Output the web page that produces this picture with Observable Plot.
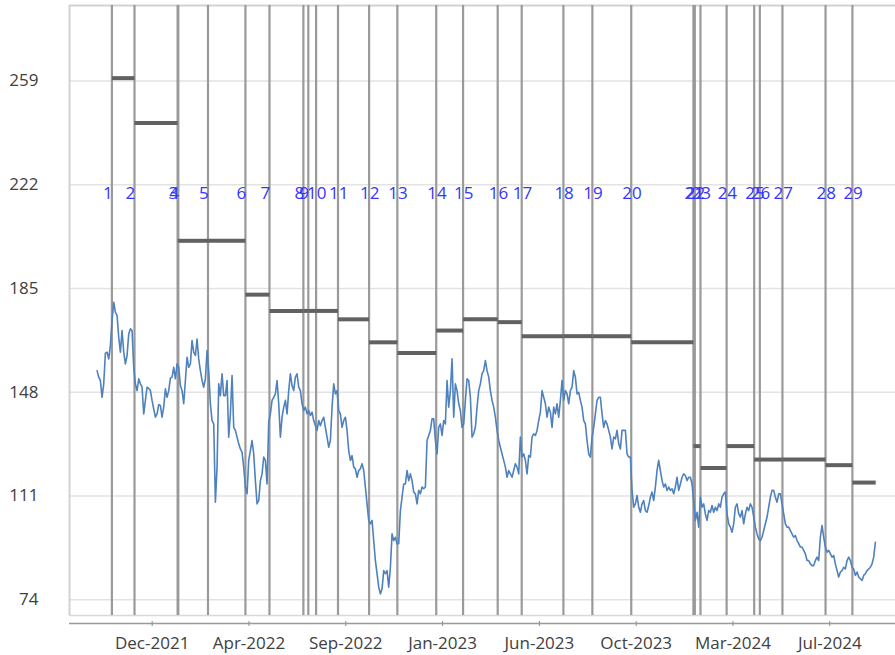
<!DOCTYPE html>
<html><head><meta charset="utf-8">
<script src="https://cdn.jsdelivr.net/npm/d3@7"></script>
<script src="https://cdn.jsdelivr.net/npm/@observablehq/plot@0.6"></script>
<style>html,body{margin:0;padding:0;background:#fff}#chart{position:absolute;left:0;top:0}</style>
</head><body><div id="chart"></div>
<script>
// Price series at a fixed sampling step
const priceStart = "2021-09-14";
const priceStepDays = 2.3587;
const priceValues = [
155.7,153.4,152.2,146.2,151.0,161.9,162.3,159.9,164.7,173.6,
180.1,176.5,175.4,167.6,162.3,170.0,162.3,158.1,161.1,168.8,
170.6,170.0,156.9,151.0,148.6,152.8,151.0,149.8,140.3,145.1,
149.8,149.4,148.6,145.1,142.1,139.1,140.3,143.6,143.3,139.1,
142.7,149.2,146.2,148.6,153.0,153.4,156.9,152.8,158.1,156.9,
150.4,148.6,143.9,152.2,160.5,156.9,158.1,166.4,162.3,161.1,
167.0,159.9,155.7,152.2,149.8,152.8,162.9,155.7,143.9,137.9,
136.7,108.8,121.3,151.0,146.8,154.6,146.8,146.8,152.2,132.0,
140.3,154.0,135.5,134.4,132.0,129.6,127.8,126.6,121.3,114.2,
111.8,123.7,127.2,130.8,126.0,116.5,108.2,109.4,116.5,118.9,
124.9,123.7,115.3,137.3,140.3,145.1,146.2,147.4,152.2,143.9,
132.0,
139.1,142.7,145.1,140.3,148.6,154.6,150.4,148.6,153.4,154.6,
149.8,148.6,143.9,141.5,142.7,140.3,141.5,139.7,140.9,137.9,
136.1,134.4,137.9,136.1,137.9,139.1,135.5,132.0,128.4,130.8,
142.7,151.0,147.4,148.6,141.5,140.3,135.5,137.9,139.1,134.4,
127.2,123.7,125.4,121.3,120.7,117.7,120.1,120.7,122.5,120.1,
114.2,108.2,102.3,101.1,102.3,95.1,88.0,83.3,78.5,76.1,
77.9,84.4,83.3,84.4,78.5,85.6,97.5,95.1,96.3,94.0,
94.0,105.8,110.6,115.3,115.3,120.1,116.5,118.9,116.5,112.4,
111.8,108.2,113.0,111.8,114.2,113.6,114.2,130.8,132.6,134.4,
138.5,138.5,130.8,126.0,135.5,136.7,132.6,137.9,136.7,152.2,
142.7,148.6,159.9,139.1,151.0,148.6,143.9,141.5,135.5,136.7,
145.1,152.8,152.2,146.2,132.0,133.2,135.5,142.7,148.6,151.0,
154.6,155.7,159.3,155.7,153.4,148.6,145.1,142.7,139.1,134.4,
130.8,128.4,126.0,123.7,121.3,117.7,120.1,118.9,117.7,120.1,
122.5,121.3,118.9,132.0,124.9,126.0,123.7,118.9,125.4,124.9,
132.0,133.2,132.6,134.4,137.9,140.9,148.6,146.2,143.9,139.1,
142.7,140.9,135.5,142.7,140.3,143.9,139.1,145.1,152.2,145.1,
148.6,147.4,143.9,148.6,149.8,155.7,153.4,147.4,148.0,145.1,
142.7,137.9,136.7,130.8,126.0,124.9,
132.0,135.5,140.3,145.1,146.2,146.2,140.3,135.5,137.9,136.7,
134.4,132.0,127.8,132.0,131.4,134.4,129.6,127.8,134.4,134.4,
134.4,126.0,124.9,124.9,113.0,107.0,108.2,111.2,107.0,105.2,
108.2,109.4,105.8,105.2,107.6,110.6,112.4,109.4,114.2,120.1,
123.7,120.1,116.5,114.2,115.3,113.0,114.2,113.0,113.6,111.8,
114.2,117.7,113.0,115.3,117.7,118.9,118.3,116.5,117.7,117.7,
115.3,108.8,102.3,105.2,99.9,110.6,107.0,108.2,104.6,102.3,
105.8,105.2,107.6,105.2,107.0,105.8,108.2,107.0,110.6,111.8,
112.4,104.6,101.1,99.9,98.1,101.1,107.0,108.2,104.6,103.5,
105.8,101.1,104.6,107.0,105.8,108.2,107.0,103.5,99.9,97.5,
95.7,95.1,96.3,98.7,101.1,103.5,107.0,110.6,113.0,113.0,
110.6,108.8,111.8,111.8,108.2,104.6,101.1,99.9,99.9,98.7,
97.5,96.3,96.9,95.1,94.0,92.8,92.8,91.6,90.4,88.0,
88.0,86.8,86.2,86.2,88.0,89.2,88.0,96.3,100.5,96.3,
92.8,91.0,91.6,90.4,89.2,89.8,86.8,84.4,82.1,83.9,
84.4,85.6,85.0,88.0,89.2,88.0,85.6,85.0,82.7,83.9,
82.1,81.5,80.9,82.7,83.3,84.4,85.0,85.6,86.8,89.2,
94.5
];

// Numbered event lines
const eventDates = [
"2021-10-05","2021-11-06","2022-01-06","2022-01-07","2022-02-18","2022-04-12","2022-05-16",
"2022-07-03","2022-07-10","2022-07-21","2022-08-21","2022-10-04","2022-11-13","2023-01-07",
"2023-02-14","2023-04-04","2023-05-08","2023-07-06","2023-08-16","2023-10-10","2024-01-06",
"2024-01-08","2024-01-16","2024-02-22","2024-04-01","2024-04-09","2024-05-11","2024-07-11",
"2024-08-18"
];
const eventLabels = ["1","2","3","4","5","6","7","8","9","10","11","12","13","14","15",
"16","17","18","19","20","21","22","23","24","25","26","27","28","29"];
// Level held from each event line to the next one
const levelValues = [260,244,202,202,202,182.8,177,177,177,177,174,165.8,162,170,174,
173,168,168,168,165.8,128.8,128.8,121,128.8,124,124,124,122,115.8];
const levelEnd = "2024-09-20";
const labelLevel = 218.7;

const yTicks = [74,111,148,185,222,259];
const xTickDates = ["2021-12-01","2022-04-17","2022-09-01","2023-01-16","2023-06-02","2023-10-17","2024-03-02","2024-07-17"];
const xDomain = ["2021-08-06","2024-10-18"];
const yDomain = [68.4, 285.9];

const parse = d3.utcParse("%Y-%m-%d");
const t0 = parse(priceStart).getTime();
const price = priceValues.map((v, i) => ({date: new Date(t0 + i * priceStepDays * 864e5), value: v}));
const events = eventDates.map((d, i) => ({date: parse(d), label: eventLabels[i], level: labelLevel}));
const levels = levelValues.map((v, i) => ({
  x1: parse(eventDates[i]),
  x2: parse(i + 1 < eventDates.length ? eventDates[i + 1] : levelEnd),
  value: v
}));
const fmt = d3.utcFormat("%b-%Y");

const chart = Plot.plot({
  width: 895, height: 655,
  marginLeft: 69, marginRight: 0, marginTop: 5, marginBottom: 40,
  style: {fontFamily: "'Open Sans', sans-serif", fontSize: "17px", background: "#fff", overflow: "visible"},
  x: {type: "utc", domain: xDomain.map(parse), label: null},
  y: {domain: yDomain, label: null},
  marks: [
    Plot.gridY(yTicks, {stroke: "#e3e3e3", strokeOpacity: 1, strokeWidth: 1.5}),
    Plot.ruleY([yDomain[1]], {stroke: "#d2d2d2", strokeWidth: 2}),
    Plot.ruleY([yDomain[0]], {stroke: "#d9d9d9", strokeWidth: 1.5}),
    Plot.ruleX([parse(xDomain[0])], {stroke: "#d2d2d2", strokeWidth: 2}),
    Plot.ruleX(events, {x: "date", stroke: "#9a9a9a", strokeWidth: 2.2}),
    Plot.link(levels, {x1: "x1", x2: "x2", y1: "value", y2: "value", stroke: "#616161", strokeWidth: 4}),
    Plot.line(price, {x: "date", y: "value", stroke: "#4f81bd", strokeWidth: 1.6}),
    Plot.text(events, {x: "date", y: "level", text: "label", textAnchor: "start", dx: -9, fill: "#3535ff", fontSize: 17}),
    Plot.axisY(yTicks, {tickSize: 0, tickPadding: 31, fill: "#404040", fontSize: 17, label: null}),
    Plot.axisX(xTickDates.map(parse), {tickSize: 5, tickPadding: 10, dy: 6, tickFormat: fmt, stroke: "#888", fill: "#404040", fontSize: 17, label: null}),
    Plot.ruleY([yDomain[0]], {dy: 8, stroke: "#999", strokeWidth: 1.5})
  ]
});
document.getElementById("chart").appendChild(chart);
</script>
</body></html>
